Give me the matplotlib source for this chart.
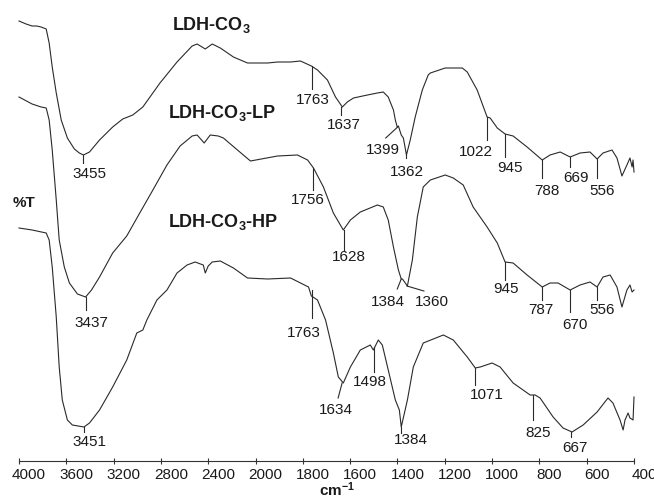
import numpy as np
import matplotlib
matplotlib.use("Agg")
import matplotlib.pyplot as plt
from matplotlib.transforms import ScaledTranslation

plt.rcParams['font.family'] = ['Liberation Sans', 'DejaVu Sans']
plt.rcParams['mathtext.fontset'] = 'custom'
plt.rcParams['mathtext.rm'] = 'Liberation Sans'
plt.rcParams['mathtext.bf'] = 'Liberation Sans:bold'
plt.rcParams['mathtext.it'] = 'Liberation Sans:italic'

# ---------------- data (wavenumber cm-1, %T offset units) ----------------
wn_co3 = [4000, 3940, 3889, 3850, 3813, 3770, 3745, 3719, 3685, 3643, 3591, 3532, 3490, 3455, 3404,
          3319, 3208, 3123, 3038, 2953, 2808, 2664, 2536, 2494, 2425, 2366, 2298, 2187, 2068,
          2043, 1949, 1907, 1852, 1810, 1764, 1738, 1696, 1662, 1633, 1612, 1586, 1527, 1485,
          1460, 1439, 1417, 1409, 1401, 1396, 1384, 1375, 1362, 1346, 1325, 1295, 1270, 1261,
          1198, 1126, 1105, 1063, 1021, 1008, 978, 945, 911, 852, 788, 755, 712, 670, 628, 586,
          556, 531, 493, 472, 451, 430, 417, 408, 404, 400]
t_co3 = [479, 476, 474, 474, 473, 471, 457, 433, 407, 380, 362, 351, 347, 345, 348,
         360, 373, 381, 385, 393, 417, 438, 454, 456, 451, 456, 452, 443, 437,
         437, 437, 438, 438, 439, 434, 430, 420, 403, 393, 398, 402, 405, 407,
         408, 403, 390, 380, 373, 374, 365, 362, 345, 360, 383, 410, 425, 427,
         432, 432, 428, 410, 383, 382, 372, 366, 364, 353, 340, 345, 348, 343, 347, 348,
         341, 347, 350, 342, 324, 335, 342, 333, 340, 328]

wn_lp = [4000, 3889, 3813, 3770, 3745, 3719, 3685, 3660, 3617, 3574, 3506, 3437, 3387, 3319,
         3208, 3089, 2979, 2868, 2749, 2638, 2536, 2494, 2434, 2383, 2315, 2272, 2153, 2043,
         1907, 1823, 1780, 1755, 1713, 1671, 1629, 1599, 1557, 1485, 1460, 1439, 1417, 1396,
         1388, 1384, 1379, 1358, 1337, 1316, 1291, 1261, 1198, 1164, 1122, 1080, 1021, 978,
         945, 911, 852, 788, 755, 721, 670, 628, 586, 556, 531, 501, 472, 451, 430, 417, 408, 400]
t_lp = [403, 396, 393, 392, 380, 350, 300, 260, 233, 217, 206, 203, 210, 223,
        247, 264, 287, 310, 335, 354, 364, 365, 357, 365, 364, 362, 350, 339,
        344, 345, 340, 332, 313, 287, 270, 280, 288, 295, 293, 280, 253, 230,
        224, 221, 221, 214, 240, 283, 313, 320, 325, 322, 315, 293, 273, 257,
        238, 237, 225, 213, 217, 217, 210, 215, 218, 213, 223, 225, 213, 193, 210, 215, 208, 210]

wn_hp = [4000, 3889, 3770, 3745, 3719, 3685, 3660, 3634, 3591, 3549, 3451, 3404, 3319, 3208,
         3089, 3004, 2953, 2919, 2834, 2749, 2664, 2579, 2511, 2442, 2425, 2400, 2366, 2298,
         2187, 2068, 1949, 1852, 1776, 1764, 1738, 1704, 1671, 1650, 1629, 1599, 1557, 1515,
         1502, 1481, 1464, 1439, 1409, 1392, 1384, 1358, 1333, 1291, 1206, 1164, 1105, 1071,
         1050, 1000, 966, 911, 839, 818, 797, 742, 700, 662, 615, 556, 510, 489, 459, 446,
         438, 425, 417, 404, 400]
t_hp = [272, 270, 267, 260, 233, 183, 133, 100, 80, 75, 73, 77, 90, 113,
        140, 167, 170, 180, 200, 210, 227, 235, 238, 235, 227, 234, 238, 239,
        232, 222, 221, 222, 213, 204, 200, 180, 147, 123, 117, 133, 150, 155,
        150, 160, 155, 130, 100, 90, 73, 100, 133, 157, 165, 160, 143, 132,
        133, 137, 133, 117, 105, 105, 102, 83, 72, 68, 75, 88, 102, 97, 80, 70,
        80, 87, 82, 80, 103]

series_names = [r'LDH-CO$_\mathbf{3}$', r'LDH-CO$_\mathbf{3}$-LP', r'LDH-CO$_\mathbf{3}$-HP']

# peak markers: (peak, T top, T bottom, bottom dx px, label dx px, label T)
peaks_co3 = [(3455, 345, 337, 0, 6, 326), (1763, 434, 411, 0, 1, 400),
             (1637, 393, 385, 0, 2, 375), (1399, 373, 362, -12, -15, 350),
             (1362, 345, 342, 0, 0, 328), (1022, 383, 360, 0, -11, 348),
             (945, 366, 343, 0, 5, 332), (788, 340, 322, 0, 5, 309),
             (669, 343, 333, 0, 6, 322), (556, 341, 322, 0, 5, 309)]
peaks_lp = [(3437, 203, 190, 0, 6, 177), (1756, 332, 310, 0, -5, 300),
            (1628, 270, 250, 0, 5, 243), (1384, 221, 211, -4, -13, 198),
            (1360, 214, 209, 17, 25, 198), (945, 238, 220, 0, 1, 211),
            (787, 213, 200, 0, -2, 190), (670, 210, 188, 0, 5, 175),
            (556, 213, 200, 0, 5, 190)]
peaks_hp = [(3451, 73, 68, 0, 6, 58), (1763, 210, 182, 0, -8, 167),
            (1634, 117, 102, -4, -6, 90), (1498, 153, 128, 0, -4, 118),
            (1384, 73, 67, 0, 10, 60), (1071, 132, 115, 0, 12, 105),
            (825, 105, 80, 0, 5, 67), (667, 68, 63, 0, 4, 52)]

xticks = [4000, 3600, 3200, 2800, 2400, 2000, 1800, 1600, 1400, 1200, 1000, 800, 600, 400]

# ---------------- scale (2x expansion below 2000 cm-1) ----------------
def fwd(x):
    x = np.asarray(x, dtype=float)
    return np.where(x > 2000, 2000 + (x - 2000) / 2.0, x)

def inv(u):
    u = np.asarray(u, dtype=float)
    return np.where(u > 2000, 2000 + (u - 2000) * 2.0, u)

W, H = 654, 500
fig = plt.figure(figsize=(W / 100, H / 100), dpi=100)
ax_left, ax_w = 19, 615
ax = fig.add_axes([ax_left / W, 39 / H, ax_w / W, 461 / H])
ax.set_xscale('function', functions=(fwd, inv))
ax.set_xlim(4000, 400)
ax.set_ylim(39, 500)

du_per_px = (float(fwd(4000)) - float(fwd(400))) / ax_w

def shift(wn, dx):
    return float(inv(float(fwd(wn)) - dx * du_per_px))

line_col = '#2a2a2a'
for wn, tt in [(wn_co3, t_co3), (wn_lp, t_lp), (wn_hp, t_hp)]:
    ax.plot(wn, tt, color=line_col, lw=0.8, clip_on=False)

for plist in [peaks_co3, peaks_lp, peaks_hp]:
    for pk, ttop, tbot, dxb, dxl, tl in plist:
        ax.plot([pk, shift(pk, dxb)], [ttop, tbot], color=line_col, lw=0.8, clip_on=False)
        ax.text(shift(pk, dxl), tl, str(pk), ha='center', va='center', fontsize=11,
                color='#1a1a1a')

name_pos = [(2706, 475), (2740, 387), (2740, 278)]
for nm, (x, y) in zip(series_names, name_pos):
    ax.text(x, y, nm, ha='left', va='center', fontsize=13, fontweight='bold', color='#1a1a1a')

for s in ['top', 'right', 'left']:
    ax.spines[s].set_visible(False)
ax.spines['bottom'].set_color('#333333')
ax.spines['bottom'].set_linewidth(0.8)
ax.set_yticks([])
ax.set_xticks(xticks)
ax.set_xticklabels([str(t) for t in xticks])
ax.xaxis.set_minor_locator(matplotlib.ticker.NullLocator())
ax.tick_params(axis='x', direction='inout', length=4, width=0.8, color='#333333',
               labelsize=11, pad=3, labelcolor='#1a1a1a')
for lab in ax.get_xticklabels():
    lab.set_transform(lab.get_transform() + ScaledTranslation(10 / 100, 0, fig.dpi_scale_trans))

fig.text(24 / W, 1 - 203 / H, '%T', ha='center', va='center', fontsize=11, fontweight='bold',
         color='#1a1a1a')
fig.text(337 / W, 1 - 490 / H, r'cm$^\mathbf{-1}$', ha='center', va='center', fontsize=11,
         fontweight='bold', color='#1a1a1a')

fig.savefig('out.png', dpi=100)
